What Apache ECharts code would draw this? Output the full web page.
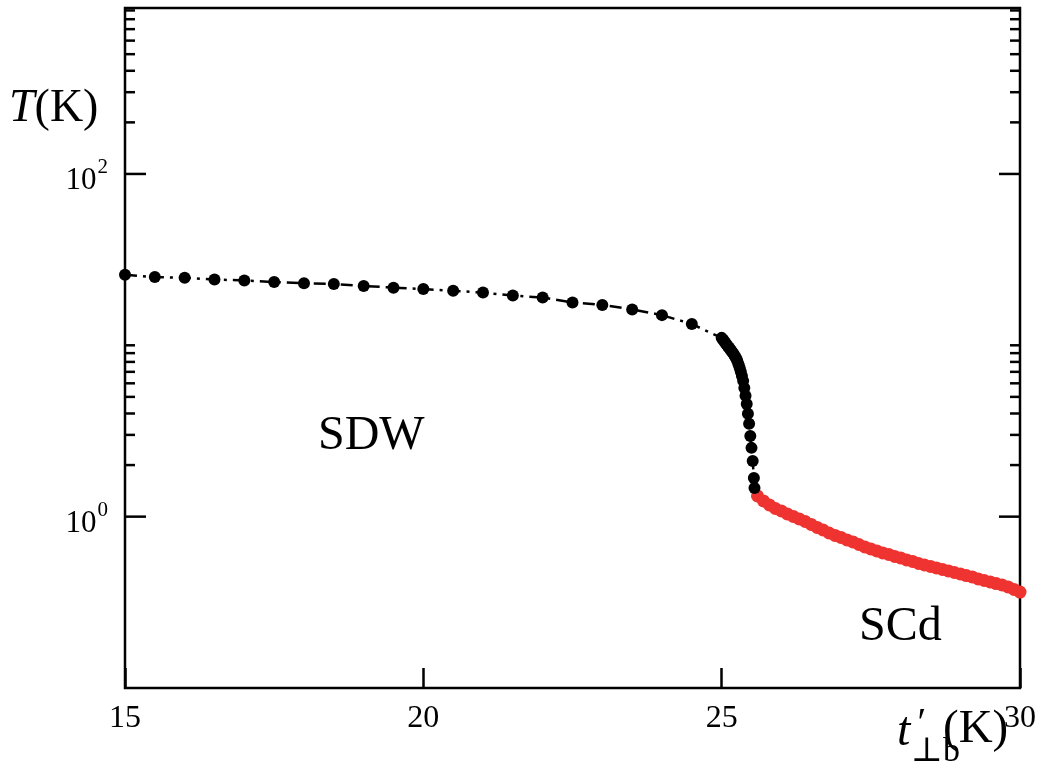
<!DOCTYPE html>
<html>
<head>
<meta charset="utf-8">
<script src="https://cdn.jsdelivr.net/npm/echarts@6/dist/echarts.min.js"></script>
<style>
  html, body { margin: 0; padding: 0; background: #fff; }
  #chart { width: 1039px; height: 773px; }
</style>
</head>
<body>
<div id="chart"></div>
<script>
// Transition temperature vs. interchain hopping t'_{⊥b}
// SDW branch (black): sparse points, then the steep drop near 25 K
const sdwX = [15, 15.5, 16, 16.5, 17, 17.5, 18, 18.5, 19, 19.5, 20, 20.5, 21, 21.5, 22, 22.5, 23, 23.5, 24, 24.5,
  25.00, 25.02, 25.04, 25.06, 25.08, 25.10, 25.12, 25.14, 25.16, 25.18, 25.20, 25.22, 25.24, 25.26, 25.28,
  25.30, 25.32, 25.34, 25.36, 25.38, 25.40, 25.42, 25.44, 25.46, 25.48, 25.50, 25.52, 25.54, 25.55];
const sdwT = [25.8, 25.0, 24.8, 24.2, 23.9, 23.4, 23.0, 22.8, 22.2, 21.7, 21.3, 20.8, 20.3, 19.5, 19.0, 17.8, 17.2, 16.2, 15.0, 13.3,
  11.05, 10.81, 10.58, 10.36, 10.13, 9.92, 9.71, 9.50, 9.30, 9.10, 8.91, 8.67, 8.44, 8.16, 7.79,
  7.43, 7.04, 6.63, 6.20, 5.64, 5.07, 4.55, 3.98, 3.48, 2.96, 2.52, 2.11, 1.68, 1.47];

// SCd branch (red)
const scdX = [25.6, 25.7, 25.8, 25.9, 26.0, 26.1, 26.2, 26.3, 26.4, 26.5, 26.6, 26.7, 26.8, 26.9, 27.0,
  27.1, 27.2, 27.3, 27.4, 27.5, 27.6, 27.7, 27.8, 27.9, 28.0, 28.1, 28.2, 28.3, 28.4, 28.5,
  28.6, 28.7, 28.8, 28.9, 29.0, 29.1, 29.2, 29.3, 29.4, 29.5, 29.6, 29.7, 29.8, 29.9, 30.0];
const scdT = [1.321, 1.235, 1.170, 1.116, 1.080, 1.037, 1.003, 0.970, 0.937, 0.901, 0.865, 0.836, 0.803, 0.777, 0.756,
  0.731, 0.712, 0.688, 0.665, 0.648, 0.631, 0.614, 0.602, 0.586, 0.574, 0.559, 0.548, 0.533, 0.522, 0.512,
  0.502, 0.492, 0.482, 0.472, 0.463, 0.453, 0.445, 0.433, 0.424, 0.416, 0.407, 0.399, 0.389, 0.376, 0.363];

// Axis settings
const xMin = 15, xMax = 30, xStep = 5;
const yMin = 0.1, yMax = 930;
const yMajorTicks = [1, 100];
const yMinorTicks = [2, 3, 4, 5, 6, 7, 8, 9, 10, 200, 300, 400, 500, 600, 700, 800, 900];

const serif = '"Liberation Serif", "Times New Roman", "DejaVu Serif", serif';
const MAJOR_LEN = 21, MINOR_LEN = 10;

const zip = (xs, ys) => xs.map((x, i) => [x, ys[i]]);
const tickRows = yMajorTicks.map(v => [xMin, v, 1]).concat(yMinorTicks.map(v => [xMin, v, 0]));

const chart = echarts.init(document.getElementById('chart'), null, { renderer: 'canvas' });

chart.setOption({
  animation: false,
  backgroundColor: '#fff',
  grid: {
    left: 125, right: 14, top: 8, bottom: 85,
    show: true, borderColor: '#000', borderWidth: 2.5, backgroundColor: 'transparent'
  },
  xAxis: {
    type: 'value', min: xMin, max: xMax, interval: xStep,
    axisLine: { show: false },
    axisTick: { show: true, inside: true, length: 20, lineStyle: { color: '#000', width: 2.5 } },
    splitLine: { show: false },
    axisLabel: { color: '#000', fontFamily: serif, fontSize: 32, margin: 15 }
  },
  yAxis: {
    type: 'log', logBase: 10, min: yMin, max: yMax,
    axisLine: { show: false },
    axisTick: { show: false },
    splitLine: { show: false },
    axisLabel: {
      margin: 17,
      formatter: v => {
        if (Math.abs(v - 1) < 1e-6) return '{b|10}{s|0}';
        if (Math.abs(v - 100) < 1e-6) return '{b|10}{s|2}';
        return '';
      },
      rich: {
        b: { fontFamily: serif, fontSize: 31, color: '#000', padding: [14, 0, 0, 0] },
        s: { fontFamily: serif, fontSize: 21, color: '#000', padding: [0, 0, 12, 1] }
      }
    }
  },
  graphic: [
    {
      type: 'text', left: 9, top: 86,
      style: {
        text: '{i|T}{n|(K)}',
        rich: {
          i: { fontFamily: serif, fontSize: 46, fontStyle: 'italic', fill: '#000' },
          n: { fontFamily: serif, fontSize: 46, fill: '#000' }
        }
      }
    },
    { type: 'text', left: 897, top: 708, style: { text: 't', font: 'italic 48px ' + serif, fill: '#000' } },
    { type: 'text', left: 915, top: 704, style: { text: '\u2032', font: 'italic 40px ' + serif, fill: '#000' } },
    { type: 'text', left: 911, top: 735, style: { text: '\u22A5b', font: '34px ' + serif, fill: '#000' } },
    { type: 'text', left: 943, top: 706, style: { text: '(K)', font: '47px ' + serif, fill: '#000' } },
    { type: 'text', left: 318, top: 412, style: { text: 'SDW', font: '48px ' + serif, fill: '#000' } },
    { type: 'text', left: 859, top: 603, style: { text: 'SCd', font: '48px ' + serif, fill: '#000' } }
  ],
  series: [
    {
      name: 'ticks', type: 'custom',
      data: tickRows,
      encode: { x: 0, y: 1 },
      silent: true,
      renderItem: (params, api) => {
        const v = api.value(1);
        const len = api.value(2) ? MAJOR_LEN : MINOR_LEN;
        const pL = api.coord([xMin, v]);
        const pR = api.coord([xMax, v]);
        const st = { stroke: '#000', lineWidth: 2.5 };
        return {
          type: 'group',
          children: [
            { type: 'line', shape: { x1: pL[0], y1: pL[1], x2: pL[0] + len, y2: pL[1] }, style: st },
            { type: 'line', shape: { x1: pR[0] - len, y1: pR[1], x2: pR[0], y2: pR[1] }, style: st }
          ]
        };
      }
    },
    {
      name: 'SCd', type: 'line',
      data: zip(scdX, scdT),
      symbol: 'circle', symbolSize: 13,
      itemStyle: { color: '#ee3330' },
      lineStyle: { width: 0 },
      clip: false
    },
    {
      name: 'SDW', type: 'line',
      data: zip(sdwX, sdwT),
      symbol: 'circle', symbolSize: 12,
      itemStyle: { color: '#000' },
      lineStyle: { color: '#000', width: 2.5, type: [12, 6, 3, 6] },
      clip: false
    }
  ]
});
</script>
</body>
</html>
